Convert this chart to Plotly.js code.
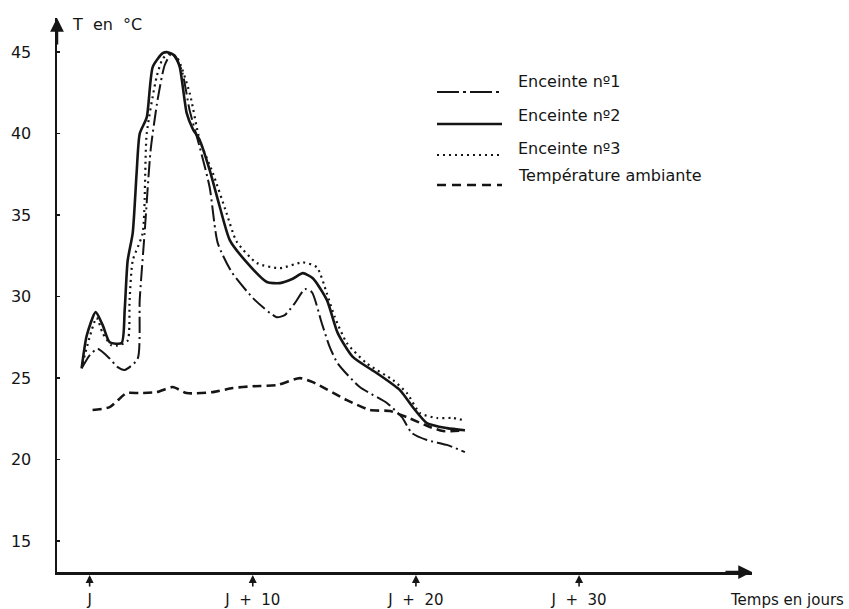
<!DOCTYPE html>
<html>
<head>
<meta charset="utf-8">
<script src="https://cdn.plot.ly/plotly-3.0.1.min.js"></script>
<style>html,body{margin:0;padding:0;background:#fff;}#chart{width:849px;height:609px;}</style>
</head>
<body>
<div id="chart"></div>
<script>
// ---- data (days after J, temperature in °C) ----
const e1Days = [-0.49, 0.0, 0.49, 1.23, 1.72, 2.15, 2.94, 3.07, 3.37, 3.74, 4.17, 4.6, 5.03, 5.64, 6.13, 6.75, 7.36, 7.85, 8.71, 10.12, 11.47, 11.96, 12.58, 13.19, 13.62, 14.23, 14.72, 15.21, 16.56, 18.22, 19.14, 19.75, 20.67, 21.9, 23.0];
const e1Temp = [25.6, 26.4, 26.8, 26.2, 25.67, 25.5, 26.17, 29.8, 33.9, 39.0, 42.1, 44.2, 44.94, 43.9, 41.44, 39.17, 36.7, 33.3, 31.5, 29.8, 28.74, 28.87, 29.6, 30.46, 30.28, 28.37, 26.9, 25.9, 24.45, 23.47, 22.6, 21.63, 21.2, 20.9, 20.46];

const e2Days = [-0.49, -0.18, 0.37, 0.8, 1.23, 1.96, 2.15, 2.33, 2.64, 2.88, 3.07, 3.5, 3.87, 4.48, 4.79, 5.2, 5.52, 5.95, 6.32, 6.75, 7.36, 7.98, 8.59, 9.51, 10.86, 11.66, 12.45, 13.07, 13.68, 14.54, 15.21, 16.13, 17.61, 19.02, 19.82, 20.67, 21.9, 23.0];
const e2Temp = [25.6, 27.6, 29.05, 28.25, 27.2, 27.15, 29.2, 32.2, 33.9, 37.6, 40.0, 41.0, 44.1, 44.94, 45.0, 44.8, 44.1, 41.26, 40.3, 39.6, 37.76, 35.5, 33.47, 32.24, 30.9, 30.83, 31.1, 31.44, 31.13, 29.8, 27.76, 26.3, 25.3, 24.26, 23.2, 22.24, 21.93, 21.8];

const e3Days = [-0.43, 0.43, 0.8, 1.35, 1.72, 2.33, 2.45, 2.64, 3.25, 3.5, 4.11, 4.48, 4.91, 5.4, 6.13, 6.75, 7.55, 8.4, 9.0, 10.25, 11.66, 13.07, 13.93, 14.54, 15.03, 15.77, 16.99, 18.59, 19.45, 20.25, 21.29, 22.27, 23.0];
const e3Temp = [25.9, 28.7, 27.76, 27.0, 27.0, 27.3, 29.8, 32.2, 33.9, 40.0, 43.5, 44.6, 44.94, 44.6, 42.5, 39.6, 37.6, 35.1, 33.4, 32.06, 31.75, 32.1, 31.8, 30.2, 28.74, 27.15, 25.9, 24.88, 24.08, 22.85, 22.55, 22.55, 22.4];

const ambDays = [0.18, 1.23, 2.27, 3.07, 4.11, 5.09, 5.95, 7.55, 8.77, 10.0, 11.47, 12.88, 13.68, 15.77, 17.18, 18.4, 19.45, 20.86, 21.66, 23.0];
const ambTemp = [23.04, 23.22, 24.08, 24.08, 24.14, 24.45, 24.08, 24.14, 24.39, 24.5, 24.57, 25.0, 24.75, 23.65, 23.04, 22.98, 22.6, 22.0, 21.75, 21.8];

const seriesNames = ["Enceinte nº1", "Enceinte nº2", "Enceinte nº3", "Température ambiante"];
const xTickVals = [0, 10, 20, 30];
const xTickText = ["J", "J\u00a0 +\u00a0 10", "J\u00a0 +\u00a0 20", "J\u00a0 +\u00a0 30"];
const yTickVals = [15, 20, 25, 30, 35, 40, 45];

// ---- styles ----
const ink = "#151515";
const styles = [
  {dash: "16px,4px,2px,4px", width: 2},
  {dash: "solid", width: 2.6},
  {dash: "2px,4px", width: 2.2},
  {dash: "9px,5px", width: 2.6}
];
const legendDash = ["22px,4px,3px,4px", "solid", "2px,4px", "9px,6px"];

const dataSets = [[e1Days, e1Temp], [e2Days, e2Temp], [e3Days, e3Temp], [ambDays, ambTemp]];
const traces = dataSets.map((d, i) => ({
  x: d[0], y: d[1], type: "scatter", mode: "lines", name: seriesNames[i],
  line: {color: ink, width: styles[i].width, dash: styles[i].dash, shape: "spline", smoothing: 0.6},
  hoverinfo: "skip"
}));

const font = {family: "DejaVu Sans, sans-serif", size: 16, color: ink};
const smallFont = {family: "DejaVu Sans, sans-serif", size: 15, color: ink};

// plot area in pixels: x 57..752, y 18..572
const L = 57, R = 752, T = 18, B = 572;
const px = x => (x - L) / (R - L);
const py = y => (B - y) / (B - T);

const annotations = [];
const shapes = [];

// axis arrows
annotations.push({xref: "paper", yref: "paper", x: 1, y: 0, ax: -28, ay: 0, text: "", showarrow: true, arrowhead: 2, arrowsize: 1.1, arrowwidth: 2.5, arrowcolor: ink});
annotations.push({xref: "paper", yref: "paper", x: 0, y: 1, ax: 0, ay: 28, text: "", showarrow: true, arrowhead: 2, arrowsize: 1.1, arrowwidth: 2.5, arrowcolor: ink});
// small arrows under x ticks
xTickVals.forEach(v => annotations.push({xref: "x", yref: "paper", x: v, y: 0, ax: 0, ay: 16, text: "", showarrow: true, arrowhead: 2, arrowsize: 1, arrowwidth: 1.6, arrowcolor: ink, standoff: 3}));

// axis titles
annotations.push({xref: "paper", yref: "paper", x: px(70), y: py(25), xanchor: "left", yanchor: "middle", text: "T\u00a0 en\u00a0 °C", showarrow: false, font: font});
annotations.push({xref: "paper", yref: "paper", x: px(728), y: py(600), xanchor: "left", yanchor: "middle", text: "Temps en jours", showarrow: false, font: smallFont});

// custom legend
const legLineY = [92, 124, 155, 185];
const legTextY = [82, 115, 148, 175];
seriesNames.forEach((n, i) => {
  shapes.push({type: "line", xref: "paper", yref: "paper", x0: px(437), x1: px(502), y0: py(legLineY[i]), y1: py(legLineY[i]),
    line: {color: ink, width: styles[i].width, dash: legendDash[i]}});
  annotations.push({xref: "paper", yref: "paper", x: px(516), y: py(legTextY[i]), xanchor: "left", yanchor: "middle", text: n, showarrow: false, font: font});
});

const layout = {
  width: 849, height: 609,
  margin: {l: L, r: 849 - R, t: T, b: 609 - B, pad: 0},
  paper_bgcolor: "#ffffff", plot_bgcolor: "#ffffff",
  showlegend: false,
  font: font,
  xaxis: {range: [-2.0, 40.6], showline: true, linewidth: 2.5, linecolor: ink, showgrid: false, zeroline: false,
    tickmode: "array", tickvals: xTickVals, ticktext: xTickText, ticks: "", ticklabelstandoff: 12, tickfont: smallFont},
  yaxis: {range: [13.1, 47.1], showline: true, linewidth: 2.5, linecolor: ink, showgrid: false, zeroline: false,
    tickmode: "array", tickvals: yTickVals, ticks: "inside", ticklen: 3, tickwidth: 1.5, tickcolor: ink, ticklabelstandoff: 20, tickfont: font},
  annotations: annotations,
  shapes: shapes
};

Plotly.newPlot("chart", traces, layout, {staticPlot: true, displayModeBar: false});
</script>
</body>
</html>
